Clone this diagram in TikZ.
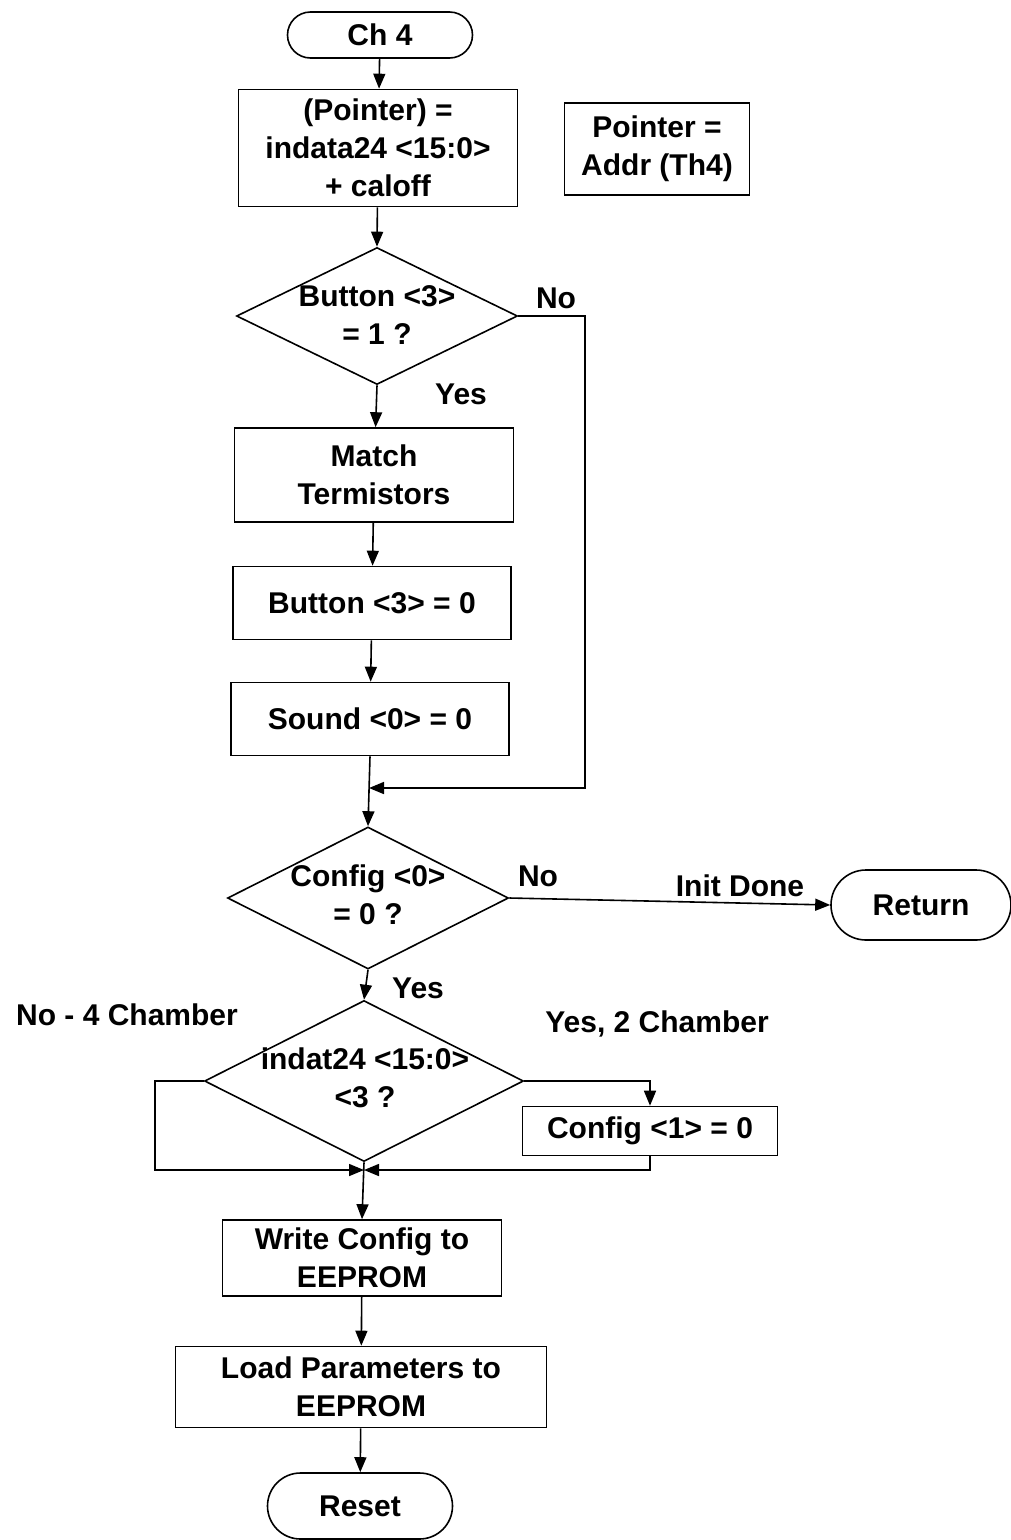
\documentclass[tikz,border=0pt]{standalone}
\usepackage{fontspec}
\setmainfont{Liberation Sans}
\usetikzlibrary{arrows.meta,shapes.geometric}
\begin{document}
\begin{tikzpicture}[x=1pt,y=-1pt,
  every node/.style={font=\fontsize{30}{38}\selectfont\bfseries, align=center, inner sep=0pt},
  proc/.style={draw, line width=1.6pt, rectangle},
  term/.style={draw, line width=1.6pt, rectangle},
  dec/.style={draw, line width=1.6pt, diamond},
  lbl/.style={},
  arr/.style={line width=1.6pt, -{Triangle[length=15pt,width=12pt]}},
  ln/.style={line width=1.6pt}]
\useasboundingbox (0,0) rectangle (1011,1540);
% nodes
\node[term, minimum width=185, minimum height=46, rounded corners=23] (ch4) at (380,35) {Ch 4};
\node[proc, minimum width=279, minimum height=117] (b1) at (378,148) {(Pointer) =\\indata24 <15:0>\\+ caloff};
\node[proc, minimum width=185, minimum height=92] (ptr) at (657,149) {Pointer =\\Addr (Th4)};
\node[dec, minimum width=281, minimum height=137] (d1) at (377,316) {};
\node at (377,315) {Button <3>\\= 1 ?};
\node[proc, minimum width=279, minimum height=94] (match) at (374,475) {Match\\Termistors};
\node[proc, minimum width=278, minimum height=73] (btn) at (372,603) {Button <3> = 0};
\node[proc, minimum width=278, minimum height=73] (snd) at (370,719) {Sound <0> = 0};
\coordinate (rt1) at (585,316);
\coordinate (m1) at (369,788);
\node[dec, minimum width=281, minimum height=142] (d2) at (368,898) {};
\node at (368,895) {Config <0>\\= 0 ?};
\node[term, minimum width=180, minimum height=70, rounded corners=35] (ret) at (921,905) {Return};
\node[dec, minimum width=319, minimum height=161] (d3) at (364,1081) {};
\node at (365,1078) {indat24 <15:0>\\<3 ?};
\coordinate (lt3) at (155,1081);
\coordinate (m3) at (364,1170);
\node[proc, minimum width=255, minimum height=49] (cfg) at (650,1131) {Config <1> = 0};
\node[proc, minimum width=279, minimum height=76] (wc) at (362,1258) {Write Config to\\EEPROM};
\node[proc, minimum width=371, minimum height=81] (lp) at (361,1387) {Load Parameters to\\EEPROM};
\node[term, minimum width=185, minimum height=66, rounded corners=33] (rst) at (360,1506) {Reset};
% labels
\node[lbl] at (556,298) {No};
\node[lbl] at (461,394) {Yes};
\node[lbl] at (538,876) {No};
\node[lbl] at (740,886) {Init Done};
\node[lbl] at (418,988) {Yes};
\node[lbl] at (127,1015) {No - 4 Chamber};
\node[lbl] at (657,1024) {Yes, 2 Chamber};
% connectors
\draw[arr] (ch4) -- (b1);
\draw[arr] (b1) -- (d1.north);
\draw[arr] (d1.south) -- (match);
\draw[arr] (match) -- (btn);
\draw[arr] (btn) -- (snd);
\draw[arr] (snd.south) -- (d2.north);
\draw[arr] (d1.east) -- (rt1) |- (m1);
\draw[arr] (d2.east) -- (ret.west);
\draw[arr] (d2.south) -- (d3.north);
\draw[arr] (d3.west) -- (lt3) |- (m3);
\draw[arr] (d3.east) -| (cfg.north);
\draw[arr] (cfg.south) |- (m3);
\draw[arr] (d3.south) -- (wc.north);
\draw[arr] (wc) -- (lp);
\draw[arr] (lp) -- (rst);
\end{tikzpicture}
\end{document}
